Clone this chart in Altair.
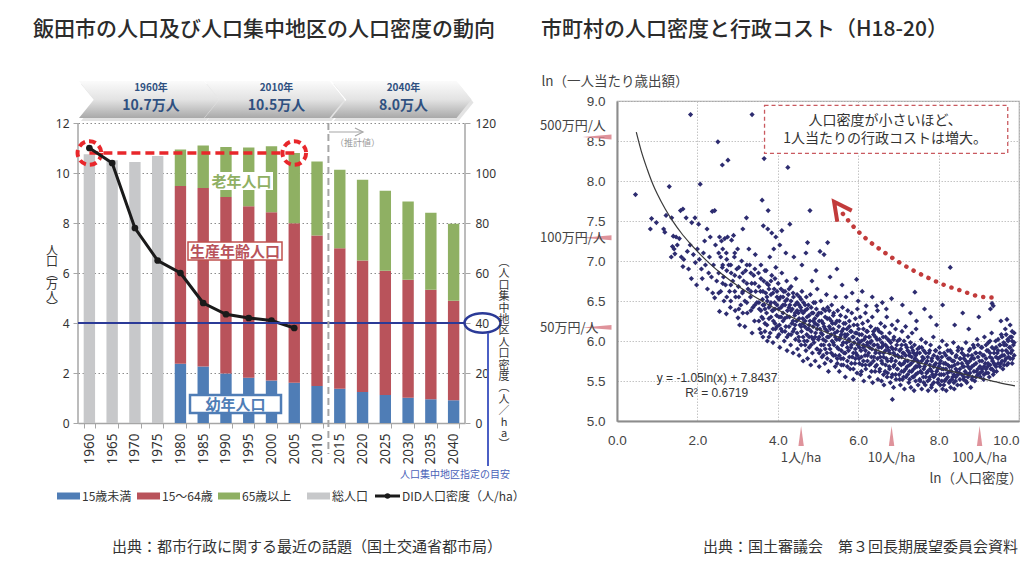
import altair as alt
import pandas as pd

JP = "Noto Sans CJK JP"
LAT = "Noto Sans"
ARIAL = "Liberation Sans"

# ======================= LEFT PANEL DATA =======================
YEARS = ["1960", "1965", "1970", "1975", "1980", "1985", "1990", "1995", "2000",
         "2005", "2010", "2015", "2020", "2025", "2030", "2035", "2040"]
TOTAL_YEARS = ["1960", "1965", "1970", "1975"]
TOTAL_POP = [10.75, 10.51, 10.44, 10.68]
AGE_YEARS = ["1980", "1985", "1990", "1995", "2000", "2005", "2010",
             "2015", "2020", "2025", "2030", "2035", "2040"]
UNDER_15 = [2.37, 2.26, 1.98, 1.81, 1.70, 1.61, 1.48, 1.37, 1.24, 1.12, 1.01, 0.95, 0.91]
AGE_15_64 = [7.11, 7.14, 7.06, 6.86, 6.73, 6.38, 6.02, 5.62, 5.26, 4.97, 4.72, 4.38, 3.98]
AGE_65_PLUS = [1.46, 1.70, 2.00, 2.35, 2.64, 2.81, 2.96, 3.14, 3.23, 3.20, 3.13, 3.08, 3.08]
DID_YEARS = ["1960", "1965", "1970", "1975", "1980", "1985", "1990", "1995", "2000", "2005"]
DID_DENSITY = [110, 104, 78, 65, 60, 48, 43.5, 42, 41, 38]
SERIES = ["15歳未満", "15〜64歳", "65歳以上", "総人口"]
SERIES_COLORS = ["#4f7db6", "#b9535b", "#8fb063", "#c7c8ca"]
LINE_LABEL = "DID人口密度（人/ha）"
BANNER_YEARS = ["1960年", "2010年", "2040年"]
BANNER_POPS = ["10.7万人", "10.5万人", "8.0万人"]
DID_GUIDE = 40
PEAK_POP = 10.8
PEAK_YEARS = ["1960", "2005"]
PROJECTION_AFTER = "2010"

# ======================= RIGHT PANEL DATA =======================
PTS_UPPER = [(0.46, 7.83), (0.86, 7.53), (0.98, 7.48), (0.83, 7.40), (1.16, 7.40), (1.19, 7.36),
             (1.22, 7.57), (1.36, 7.54), (1.30, 7.93), (1.40, 7.31), (1.47, 7.30), (1.38, 7.18),
             (1.42, 7.15), (1.35, 7.05), (1.44, 7.09), (1.55, 7.28), (1.50, 7.20), (1.58, 7.63),
             (1.64, 7.65), (1.72, 7.54), (1.86, 7.48), (1.94, 7.54), (2.03, 7.46), (2.07, 7.96),
             (2.24, 7.40), (2.37, 7.62), (2.43, 7.63), (2.51, 8.49), (2.62, 8.20), (2.76, 8.26),
             (3.13, 7.40), (3.22, 7.54), (3.66, 8.28), (4.25, 8.17), (3.61, 7.76), (3.76, 7.63),
             (4.80, 7.63), (3.64, 7.44), (4.30, 7.46), (3.75, 7.40), (3.85, 7.35), (3.95, 7.30),
             (4.10, 7.38), (4.05, 7.20), (3.90, 7.15), (4.20, 7.10), (4.40, 7.05), (3.80, 7.05),
             (4.74, 7.23), (5.24, 7.23), (4.70, 7.10), (5.05, 7.12), (5.15, 7.08), (5.47, 6.90),
             (4.60, 6.95), (4.95, 6.88), (5.30, 6.80), (4.85, 6.75), (1.83, 8.83), (3.36, 8.83)]
PTS_B = [(1.60, 7.05), (1.66, 7.02), (1.64, 6.93), (1.75, 7.12), (1.82, 7.20), (1.90, 7.08),
         (1.95, 6.98), (2.00, 7.15), (2.05, 7.02), (2.10, 6.90), (2.15, 7.10), (2.20, 6.95),
         (2.28, 6.85), (2.30, 7.05), (2.35, 6.80), (2.40, 6.95), (2.45, 7.20), (2.48, 6.75),
         (1.85, 6.78), (1.98, 6.70), (2.12, 6.78), (2.25, 6.65), (2.43, 6.54), (2.38, 6.60),
         (2.32, 7.30), (2.18, 7.25), (1.78, 6.90)]
PTS_C = [(2.55, 6.37), (2.72, 6.34), (3.01, 6.29), (2.55, 7.30), (2.60, 7.25), (2.68, 7.28),
         (2.75, 7.30), (2.85, 7.26), (2.90, 7.32), (2.58, 7.05), (2.62, 6.92), (2.65, 6.80),
         (2.70, 6.70), (2.72, 7.10), (2.78, 6.95), (2.80, 6.62), (2.84, 6.85), (2.88, 6.75),
         (2.92, 7.05), (2.95, 6.55), (2.98, 6.90), (3.02, 6.68), (3.05, 6.80), (3.08, 6.45),
         (3.10, 7.00), (3.12, 6.60), (3.15, 6.75), (3.18, 6.50), (3.20, 6.88), (3.24, 6.35),
         (3.26, 6.65), (3.30, 6.95), (3.32, 6.55), (3.35, 6.72), (3.38, 6.42), (3.40, 6.82),
         (3.42, 6.25), (3.45, 6.62), (3.48, 6.48), (2.58, 6.62), (2.66, 6.50), (2.82, 6.42),
         (2.94, 6.38), (3.00, 7.15), (3.28, 7.15), (3.05, 6.20), (3.18, 6.18), (3.36, 6.10),
         (3.44, 7.08)]
PTS_D = [(3.52, 6.85), (3.54, 6.40), (3.55, 6.15), (3.57, 6.62), (3.58, 6.95), (3.60, 6.30),
         (3.62, 6.52), (3.63, 6.05), (3.65, 6.75), (3.66, 6.45), (3.68, 6.22), (3.70, 6.60),
         (3.71, 6.88), (3.72, 6.35), (3.74, 6.00), (3.74, 6.50), (3.77, 6.70), (3.78, 6.28),
         (3.80, 6.45), (3.81, 6.10), (3.83, 6.58), (3.85, 6.82), (3.86, 6.38), (3.88, 5.98),
         (3.89, 6.25), (3.91, 6.65), (3.92, 6.48), (3.94, 6.15), (3.95, 6.92), (3.97, 6.32),
         (3.98, 6.55), (3.99, 6.05), (4.01, 6.72), (4.02, 6.40), (4.04, 6.20), (4.05, 5.92),
         (4.07, 6.55), (4.08, 6.30), (4.10, 6.85), (4.11, 6.12), (4.13, 6.45), (4.14, 6.62),
         (4.16, 6.00), (4.17, 6.28), (4.19, 6.50), (4.20, 6.18), (4.22, 6.75), (4.23, 5.88),
         (4.24, 6.38), (4.26, 6.58), (4.27, 6.08), (4.29, 6.30), (4.30, 6.45), (4.32, 5.95),
         (4.33, 6.68), (4.35, 6.22), (4.36, 6.40), (4.38, 5.85), (4.39, 6.55), (4.41, 6.15),
         (4.42, 6.32), (4.44, 6.02), (4.45, 6.78), (4.47, 6.25), (4.48, 6.48), (4.49, 5.90)]
PTS_E = [(4.51, 6.35), (4.52, 6.05), (4.53, 5.82), (4.54, 6.55), (4.55, 6.20), (4.57, 6.42),
         (4.58, 5.95), (4.59, 6.12), (4.60, 6.62), (4.62, 6.28), (4.63, 5.75), (4.64, 6.48),
         (4.66, 6.00), (4.67, 6.18), (4.68, 6.38), (4.70, 5.88), (4.71, 6.55), (4.72, 6.08),
         (4.73, 6.30), (4.74, 5.78), (4.76, 6.45), (4.77, 6.15), (4.78, 5.92), (4.80, 6.25),
         (4.81, 6.58), (4.82, 5.70), (4.84, 6.05), (4.85, 6.35), (4.86, 5.85), (4.88, 6.18),
         (4.89, 6.48), (4.90, 5.98), (4.92, 6.28), (4.93, 5.75), (4.94, 6.10), (4.96, 6.40),
         (4.97, 5.90), (4.98, 6.65), (4.99, 6.20), (5.01, 6.02), (5.02, 6.35), (5.03, 5.68),
         (5.05, 6.15), (5.06, 5.88), (5.07, 6.50), (5.09, 6.25), (5.10, 5.80), (5.11, 6.08),
         (5.13, 6.40), (5.14, 5.95), (5.15, 6.18), (5.17, 5.72), (5.18, 6.30), (5.19, 6.00),
         (5.21, 6.58), (5.22, 5.85), (5.23, 6.12), (5.24, 6.42), (5.26, 5.62), (5.27, 6.05),
         (5.28, 6.28), (5.30, 5.90), (5.31, 6.15), (5.32, 5.75), (5.34, 6.45), (5.35, 6.00),
         (5.36, 6.22), (5.38, 5.82), (5.39, 6.35), (5.40, 5.95), (5.42, 6.10), (5.43, 5.68),
         (5.44, 6.55), (5.46, 6.02), (5.47, 6.25), (5.48, 5.78), (5.49, 6.38)]
PTS_F = [(5.96, 6.77), (6.20, 6.44), (6.46, 6.44), (5.60, 6.70), (5.85, 6.60), (6.10, 6.62),
         (6.35, 6.55), (5.70, 6.55), (6.00, 6.50), (5.51, 5.90), (5.52, 6.18), (5.53, 5.62),
         (5.55, 6.05), (5.56, 6.32), (5.57, 5.78), (5.59, 6.12), (5.60, 5.95), (5.61, 6.42),
         (5.63, 5.70), (5.64, 6.22), (5.65, 5.85), (5.67, 6.08), (5.68, 5.55), (5.69, 6.30),
         (5.71, 5.98), (5.72, 6.15), (5.73, 5.75), (5.74, 6.38), (5.76, 5.88), (5.77, 6.02),
         (5.78, 6.25), (5.80, 5.65), (5.81, 6.12), (5.82, 5.92), (5.84, 6.35), (5.85, 5.80),
         (5.86, 6.05), (5.88, 5.52), (5.89, 6.20), (5.90, 5.98), (5.92, 5.72), (5.93, 6.28),
         (5.94, 5.85), (5.96, 6.10), (5.97, 5.60), (5.98, 6.40), (5.99, 5.95), (6.01, 6.15),
         (6.02, 5.78), (6.03, 5.98), (6.05, 6.30), (6.06, 5.58), (6.07, 5.88), (6.09, 6.08),
         (6.10, 5.70), (6.11, 6.22), (6.13, 5.92), (6.14, 5.50), (6.15, 6.02), (6.17, 5.82),
         (6.18, 6.35), (6.19, 5.65), (6.21, 6.12), (6.22, 5.95), (6.23, 5.75), (6.24, 6.25),
         (6.26, 5.85), (6.27, 6.05), (6.28, 5.55), (6.30, 5.98), (6.31, 6.18), (6.32, 5.72),
         (6.34, 5.90), (6.35, 6.30), (6.36, 5.48), (6.38, 6.08), (6.39, 5.80), (6.40, 5.95),
         (6.42, 5.62), (6.43, 6.15), (6.44, 5.88), (6.46, 5.70), (6.47, 6.02), (6.48, 6.38),
         (6.49, 5.52)]
PTS_G = [(6.83, 6.53), (7.41, 6.61), (6.70, 6.40), (7.10, 6.45), (7.30, 6.35), (6.60, 6.48),
         (7.45, 6.25), (6.85, 5.27), (6.51, 5.92), (6.52, 6.12), (6.54, 5.65), (6.55, 5.80),
         (6.56, 6.22), (6.58, 5.50), (6.59, 5.98), (6.60, 5.72), (6.62, 6.05), (6.63, 5.85),
         (6.64, 5.45), (6.66, 6.18), (6.67, 5.62), (6.68, 5.95), (6.70, 5.78), (6.71, 6.30),
         (6.72, 5.55), (6.74, 6.02), (6.76, 5.88), (6.77, 5.68), (6.78, 6.10), (6.80, 5.48),
         (6.81, 5.98), (6.82, 5.75), (6.84, 6.20), (6.85, 5.58), (6.86, 5.90), (6.88, 5.42),
         (6.89, 6.05), (6.90, 5.70), (6.92, 5.82), (6.93, 6.15), (6.94, 5.52), (6.96, 5.95),
         (6.97, 5.65), (6.98, 6.25), (7.01, 5.80), (7.02, 5.58), (7.03, 6.02), (7.05, 5.45),
         (7.06, 5.90), (7.07, 5.70), (7.09, 6.12), (7.10, 5.52), (7.11, 5.85), (7.13, 5.62),
         (7.14, 6.00), (7.15, 5.40), (7.17, 5.75), (7.18, 6.18), (7.19, 5.55), (7.21, 5.92),
         (7.22, 5.68), (7.24, 6.05), (7.26, 5.48), (7.27, 5.82), (7.28, 5.62), (7.30, 5.98),
         (7.31, 5.42), (7.32, 5.72), (7.34, 6.10), (7.35, 5.55), (7.36, 5.88), (7.38, 5.65),
         (7.39, 5.38), (7.40, 5.95), (7.42, 5.78), (7.43, 5.50), (7.44, 6.15), (7.46, 5.68),
         (7.47, 5.85), (7.49, 5.45)]
PTS_H = [(8.29, 6.92), (7.80, 6.30), (8.10, 6.45), (7.65, 6.40), (8.40, 6.20), (7.95, 6.20),
         (7.51, 5.72), (7.52, 5.92), (7.54, 5.50), (7.55, 5.62), (7.57, 6.02), (7.58, 5.40),
         (7.60, 5.80), (7.62, 5.55), (7.63, 5.88), (7.65, 5.68), (7.67, 5.45), (7.68, 5.98),
         (7.70, 5.60), (7.72, 5.75), (7.74, 5.38), (7.76, 5.85), (7.77, 5.52), (7.79, 5.65),
         (7.80, 5.95), (7.82, 5.42), (7.83, 5.78), (7.85, 5.58), (7.87, 6.05), (7.88, 5.48),
         (7.90, 5.70), (7.92, 5.88), (7.93, 5.38), (7.95, 5.62), (7.97, 5.80), (7.99, 5.52),
         (8.01, 5.68), (8.02, 5.92), (8.04, 5.45), (8.05, 5.75), (8.07, 5.58), (8.09, 6.00),
         (8.10, 5.40), (8.12, 5.65), (8.14, 5.85), (8.15, 5.50), (8.17, 5.72), (8.19, 5.38),
         (8.20, 5.95), (8.22, 5.60), (8.24, 5.78), (8.26, 5.48), (8.27, 5.68), (8.29, 5.88),
         (8.30, 5.42), (8.32, 5.62), (8.34, 5.75), (8.35, 5.55), (8.37, 5.98), (8.39, 5.40),
         (8.40, 5.70), (8.42, 5.50), (8.44, 5.82), (8.45, 5.62), (8.47, 5.45), (8.49, 5.92)]
PTS_I = [(9.29, 6.40), (9.36, 6.44), (9.33, 6.47), (9.70, 6.27), (9.83, 6.12), (9.00, 6.30),
         (8.75, 6.15), (9.55, 6.25), (8.60, 6.35), (8.52, 5.60), (8.54, 5.78), (8.56, 5.45),
         (8.58, 5.90), (8.60, 5.68), (8.62, 5.52), (8.64, 5.82), (8.66, 5.62), (8.68, 5.98),
         (8.70, 5.48), (8.72, 5.72), (8.74, 5.58), (8.76, 5.88), (8.78, 5.65), (8.80, 5.42),
         (8.82, 5.78), (8.84, 5.55), (8.86, 5.95), (8.88, 5.70), (8.90, 5.50), (8.92, 5.85),
         (8.94, 5.62), (8.96, 6.02), (8.98, 5.58), (9.02, 5.75), (9.04, 5.55), (9.06, 5.92),
         (9.08, 5.65), (9.10, 5.82), (9.12, 5.52), (9.14, 6.05), (9.16, 5.72), (9.18, 5.60),
         (9.20, 5.88), (9.22, 5.68), (9.24, 5.98), (9.26, 5.55), (9.28, 5.80), (9.30, 5.65),
         (9.32, 6.10), (9.34, 5.75), (9.36, 5.58), (9.38, 5.90), (9.40, 5.70), (9.42, 6.00),
         (9.44, 5.62), (9.46, 5.85), (9.48, 5.78), (9.52, 5.95), (9.54, 5.72), (9.56, 6.08),
         (9.58, 5.82), (9.60, 5.65), (9.62, 5.98), (9.64, 5.75), (9.66, 6.15), (9.68, 5.88),
         (9.70, 5.70), (9.72, 6.02), (9.74, 5.80), (9.76, 5.92), (9.78, 6.20), (9.80, 5.85),
         (9.82, 6.05), (9.84, 5.78), (9.86, 5.95), (9.88, 6.10)]
# the densest part of the cloud, read column by column: (ln density, [ln cost values])
CORE_COLUMNS = [
    (2.53, [6.85, 7.10, 6.60]), (2.63, [6.95, 6.72, 7.15]), (2.73, [6.88, 6.55, 7.02]),
    (2.83, [6.70, 6.95, 6.50]), (2.93, [6.82, 6.62, 7.10]), (3.03, [6.55, 6.92, 6.40]),
    (3.13, [6.85, 6.62, 6.35]), (3.23, [6.72, 6.48, 6.95]), (3.33, [6.62, 6.85, 6.38]),
    (3.43, [6.72, 6.45, 6.90]),
    (3.53, [6.68, 6.25, 6.48]), (3.58, [6.38, 6.78, 6.10]), (3.63, [6.62, 6.28, 6.45]),
    (3.68, [6.88, 6.40, 6.12]), (3.73, [6.55, 6.20, 6.72]), (3.78, [6.42, 6.65, 6.05]),
    (3.83, [6.30, 6.48, 6.75]), (3.88, [6.60, 6.15, 6.38]), (3.93, [6.40, 6.78, 6.22]),
    (3.98, [6.18, 6.45, 6.62]), (4.03, [6.52, 6.30, 6.08]), (4.08, [6.42, 6.65, 6.15]),
    (4.13, [6.25, 6.55, 6.35]), (4.18, [6.45, 6.12, 6.62]), (4.23, [6.30, 6.52, 6.05]),
    (4.28, [6.18, 6.42, 6.65]), (4.33, [6.38, 6.08, 6.50]), (4.38, [6.25, 6.60, 6.12]),
    (4.43, [6.45, 6.20, 6.35]), (4.48, [6.10, 6.38, 6.58]), (4.53, [6.28, 6.45, 6.00]),
    (4.58, [6.18, 6.38, 6.52]), (4.63, [6.05, 6.35, 6.22]), (4.68, [6.25, 5.95, 6.45]),
    (4.73, [6.15, 6.40, 6.00]), (4.78, [6.32, 6.05, 6.20]), (4.83, [6.12, 6.42, 5.95]),
    (4.88, [6.25, 6.02, 6.35]), (4.93, [6.05, 6.22, 6.48]), (4.98, [6.15, 5.90, 6.32]),
    (5.03, [6.25, 6.05, 5.85]), (5.08, [6.10, 6.35, 5.95]), (5.13, [6.02, 6.22, 5.82]),
    (5.18, [6.15, 5.90, 6.38]), (5.23, [6.05, 6.28, 5.78]), (5.28, [5.95, 6.18, 6.38]),
    (5.33, [6.08, 5.85, 6.25]), (5.38, [5.98, 6.15, 6.32]), (5.43, [6.05, 5.82, 6.22]),
    (5.48, [5.92, 6.12, 5.72]), (5.53, [6.02, 5.82, 6.25]), (5.58, [5.88, 6.08, 5.70]),
    (5.63, [5.98, 6.15, 5.78]), (5.68, [6.05, 5.85, 6.22]), (5.73, [5.92, 6.08, 5.68]),
    (5.78, [5.80, 6.00, 6.18]), (5.83, [5.95, 5.72, 6.12]), (5.88, [6.05, 5.85, 5.65]),
    (5.93, [5.90, 6.10, 5.78]), (5.98, [5.82, 6.02, 6.20]), (6.03, [5.92, 5.72, 6.08]),
    (6.08, [5.80, 6.00, 5.62]), (6.13, [5.95, 5.75, 6.15]), (6.18, [5.88, 6.05, 5.70]),
    (6.23, [5.82, 5.98, 6.12]), (6.28, [5.92, 5.70, 6.05]), (6.33, [5.80, 6.00, 5.62]),
    (6.38, [5.95, 5.75, 6.12]), (6.43, [5.85, 6.05, 5.68]), (6.48, [5.78, 5.95, 6.15]),
    (6.53, [5.85, 5.62, 6.02]), (6.58, [5.92, 5.75, 6.10]), (6.63, [5.80, 5.95, 5.58]),
    (6.68, [5.88, 5.70, 6.05]), (6.73, [5.75, 5.92, 5.60]), (6.78, [5.85, 6.00, 5.65]),
    (6.83, [5.78, 5.92, 5.55]), (6.88, [5.85, 5.68, 6.02]), (6.93, [5.75, 5.90, 5.58]),
    (6.98, [5.82, 5.65, 6.00]), (7.03, [5.72, 5.88, 5.52]), (7.08, [5.80, 5.62, 5.95]),
    (7.13, [5.72, 5.85, 5.55]), (7.18, [5.65, 5.82, 5.95]), (7.23, [5.75, 5.58, 5.88]),
    (7.28, [5.70, 5.85, 5.52]), (7.33, [5.62, 5.80, 5.92]), (7.38, [5.75, 5.55, 5.85]),
    (7.43, [5.68, 5.82, 5.58]), (7.48, [5.60, 5.75, 5.90]), (7.53, [5.68, 5.52, 5.85]),
    (7.58, [5.75, 5.60, 5.92]), (7.63, [5.65, 5.78, 5.48]), (7.68, [5.72, 5.55, 5.85]),
    (7.73, [5.62, 5.80, 5.50]), (7.78, [5.70, 5.55, 5.88]), (7.83, [5.62, 5.75, 5.45]),
    (7.88, [5.68, 5.82, 5.55]), (7.93, [5.58, 5.72, 5.88]), (7.98, [5.65, 5.48, 5.78]),
    (8.03, [5.58, 5.72, 5.85]), (8.08, [5.65, 5.50, 5.80]), (8.13, [5.58, 5.72, 5.45]),
    (8.18, [5.65, 5.82, 5.52]), (8.23, [5.55, 5.70, 5.88]), (8.28, [5.62, 5.50, 5.78]),
    (8.33, [5.68, 5.52, 5.85]), (8.38, [5.58, 5.75, 5.48]), (8.43, [5.65, 5.55, 5.80]),
    (8.48, [5.58, 5.72, 5.88]), (8.53, [5.65, 5.52, 5.78]), (8.58, [5.58, 5.72, 5.85]),
    (8.63, [5.68, 5.55, 5.78]), (8.68, [5.60, 5.75, 5.50]), (8.73, [5.68, 5.82, 5.55]),
    (8.78, [5.60, 5.75, 5.90]), (8.83, [5.68, 5.52, 5.82]), (8.88, [5.62, 5.78, 5.92]),
    (8.93, [5.72, 5.55, 5.85]), (8.98, [5.65, 5.80, 5.95]), (9.03, [5.68, 5.85, 5.60]),
    (9.08, [5.75, 5.62, 5.92]), (9.13, [5.68, 5.82, 5.58]), (9.18, [5.78, 5.65, 5.95]),
    (9.23, [5.72, 5.88, 5.60]), (9.28, [5.70, 5.85, 6.00]), (9.33, [5.78, 5.65, 5.92]),
    (9.38, [5.72, 5.85, 5.62]), (9.43, [5.80, 5.92, 5.68]), (9.48, [5.72, 5.88, 6.02]),
    (9.53, [5.80, 5.68, 5.95]), (9.58, [5.88, 5.75, 6.05]), (9.63, [5.82, 5.95, 5.70]),
    (9.68, [5.78, 5.95, 6.08]), (9.73, [5.85, 5.72, 6.00]), (9.78, [5.92, 5.78, 6.05]),
    (9.83, [5.88, 5.72, 6.00]), (9.88, [5.82, 5.98]),
]

CURVE_X = [0.48, 0.6, 0.75, 0.9, 1.0, 1.2, 1.4, 1.6, 1.8, 2.0, 2.3, 2.6, 3.0, 3.5, 4.0,
           4.5, 5.0, 5.5, 6.0, 6.5, 7.0, 7.5, 8.0, 8.5, 9.0, 9.5, 9.9]
CURVE_Y = [8.61, 8.38, 8.15, 7.95, 7.84, 7.65, 7.49, 7.35, 7.23, 7.12, 6.97, 6.84, 6.69, 6.53, 6.39,
           6.26, 6.15, 6.05, 5.96, 5.88, 5.80, 5.73, 5.66, 5.60, 5.54, 5.48, 5.44]
EQUATION = "y = -1.05ln(x) + 7.8437"
R_SQUARED = "R² = 0.6719"
NOTE_LINES = ["人口密度が小さいほど、", "1人当たりの行政コストは増大。"]
COST_LABELS = ["500万円/人", "100万円/人", "50万円/人"]
COST_LABEL_Y = [8.69, 7.29, 6.16]
COST_MARK_Y = [8.55, 7.29, 6.17]
DENSITY_LABELS = ["1人/ha", "10人/ha", "100人/ha"]
DENSITY_X = [4.58, 6.83, 9.02]
TREND_ARROW_X = [5.62, 5.92, 6.24, 6.59, 6.97, 7.34, 7.74, 8.14, 8.56, 8.99, 9.44]
TREND_ARROW_Y = [7.59, 7.41, 7.26, 7.13, 7.00, 6.89, 6.79, 6.70, 6.63, 6.56, 6.54]
ARROW_HEAD_X = [5.84, 5.40, 5.48]
ARROW_HEAD_Y = [7.63, 7.74, 7.49]

# ======================= LAYOUT =======================
LW, LH = 387, 322
RW, RH = 402, 320
ONE = pd.DataFrame({"k": [0]})
RED = "#e8272b"
NAVY = "#2d2c70"


def label(text, x, y, size=13, color="#333333", align="center", weight="normal",
          font=JP, baseline="middle", **kw):
    return alt.Chart(ONE).mark_text(text=text, fontSize=size, color=color, align=align,
                                    fontWeight=weight, font=font, baseline=baseline,
                                    **kw).encode(x=x, y=y)


# ---------------- left panel ----------------
XB = alt.Scale(domain=YEARS, paddingInner=0.5, paddingOuter=0.25)
LY = alt.Scale(domain=[0, 12.88], nice=False, zero=True)
LY2 = alt.Scale(domain=[0, 128.8], nice=False, zero=True)
X_AXIS_L = alt.Axis(title=None, labelAngle=270, labelFontSize=13.5, labelColor="#333333",
                    labelPadding=5, domainColor="#a6a6a6", domainWidth=1.5,
                    tickColor="#a6a6a6", tickSize=5, tickBand="extent", grid=False)
Y_AXIS_L = alt.Axis(title=None, values=[0, 2, 4, 6, 8, 10, 12], grid=True, gridColor="#8c8c8c",
                    gridDash=[1.5, 2.5], gridWidth=1, domain=False, tickColor="#a6a6a6",
                    tickSize=5, labelFontSize=12, labelColor="#333333", labelPadding=4)
Y_AXIS_R = alt.Axis(title=None, orient="right", values=[0, 20, 40, 60, 80, 100, 120], grid=False,
                    domain=False, tickColor="#a6a6a6", tickSize=5, labelFontSize=12,
                    labelColor="#333333", labelPadding=5)

rows = []
for yr, v in zip(TOTAL_YEARS, TOTAL_POP):
    rows.append({"year": yr, "series": SERIES[3], "value": v, "ord": 0})
for yr, a, b, c in zip(AGE_YEARS, UNDER_15, AGE_15_64, AGE_65_PLUS):
    rows.append({"year": yr, "series": SERIES[0], "value": a, "ord": 0})
    rows.append({"year": yr, "series": SERIES[1], "value": b, "ord": 1})
    rows.append({"year": yr, "series": SERIES[2], "value": c, "ord": 2})
bar_df = pd.DataFrame(rows)
did_df = pd.DataFrame({"year": DID_YEARS, "density": DID_DENSITY})
peak_df = pd.DataFrame({"year": PEAK_YEARS, "v": [PEAK_POP, PEAK_POP]})

bars = alt.Chart(bar_df).mark_bar().encode(
    x=alt.X("year:N", scale=XB, axis=X_AXIS_L),
    y=alt.Y("value:Q", stack="zero", scale=LY, axis=Y_AXIS_L),
    color=alt.Color("series:N", scale=alt.Scale(domain=SERIES, range=SERIES_COLORS), legend=None),
    order=alt.Order("ord:Q"),
)
axis_lines = [
    alt.Chart(ONE).mark_rule(color="#a6a6a6", strokeWidth=1.5).encode(
        x=alt.value(px), y=alt.YDatum(12, scale=LY, axis=Y_AXIS_L), y2=alt.Y2Datum(0))
    for px in (0, LW)
]
peak_line = alt.Chart(peak_df).mark_line(color=RED, strokeWidth=3.5, strokeDash=[9, 5]).encode(
    x=alt.X("year:N", scale=XB, axis=X_AXIS_L),
    y=alt.Y("v:Q", scale=LY, axis=Y_AXIS_L))
peak_circles = alt.Chart(peak_df).mark_point(
    shape="circle", size=560, filled=False, stroke=RED, strokeWidth=4, strokeDash=[7, 4],
    opacity=1).encode(
    x=alt.X("year:N", scale=XB, axis=X_AXIS_L),
    y=alt.Y("v:Q", scale=LY, axis=Y_AXIS_L))
left_scale_group = alt.layer(bars, *axis_lines, peak_line, peak_circles)

did_line = alt.Chart(did_df).mark_line(color="#1a1a1a", strokeWidth=3).encode(
    x=alt.X("year:N", scale=XB, axis=X_AXIS_L),
    y=alt.Y("density:Q", scale=LY2, axis=Y_AXIS_R))
did_pts = alt.Chart(did_df).mark_point(filled=True, size=45, color="#1a1a1a", opacity=1).encode(
    x=alt.X("year:N", scale=XB, axis=X_AXIS_L),
    y=alt.Y("density:Q", scale=LY2, axis=Y_AXIS_R))
guide_rule = alt.Chart(ONE).mark_rule(color="#2b3a97", strokeWidth=2).encode(
    x=alt.value(0), x2=alt.value(LW),
    y=alt.YDatum(DID_GUIDE, scale=LY2, axis=Y_AXIS_R))
ELLIPSE = "M -1 0 A 1 0.54 0 1 1 1 0 A 1 0.54 0 1 1 -1 0 Z"
guide_oval = alt.Chart(ONE).mark_point(shape=ELLIPSE, size=1296, filled=False, stroke="#2b3a97",
                                       strokeWidth=2.5, opacity=1).encode(
    x=alt.value(404.5), y=alt.YDatum(DID_GUIDE, scale=LY2, axis=Y_AXIS_R))
right_scale_group = alt.layer(did_line, did_pts, guide_rule, guide_oval)

decor_left = []
# projection divider
decor_left.append(alt.Chart(ONE).mark_rule(color="#a6a6a6", strokeWidth=2, strokeDash=[7, 4],
                                           xOffset=11.38).encode(
    x=alt.XDatum(PROJECTION_AFTER, type="nominal", scale=XB, axis=X_AXIS_L),
    y=alt.value(22), y2=alt.value(353)))
decor_left.append(alt.Chart(ONE).mark_rule(color="#a6a6a6", strokeWidth=1.2).encode(
    x=alt.value(251), x2=alt.value(284), y=alt.value(31)))
decor_left.append(alt.Chart(ONE).mark_point(shape="M -1 -1 L 1 0 L -1 1", size=64, filled=False,
                                            stroke="#a6a6a6", strokeWidth=1.2, opacity=1).encode(
    x=alt.value(281), y=alt.value(31)))
decor_left.append(label("（推計値）", alt.value(279.5), alt.value(42), size=9, color="#9a9a9a"))
# guide annotation
decor_left.append(alt.Chart(ONE).mark_rule(color="#4b5fc4", strokeWidth=2).encode(
    x=alt.value(410), y=alt.value(232), y2=alt.value(365)))
decor_left.append(label("人口集中地区指定の目安", alt.value(432), alt.value(374), size=10,
                        color="#4a62b8", align="right"))
# segment label boxes
for (x0, y0, x1, y1, txt, col, border, bw) in [
        (132, 71, 195, 89, "老年人口", "#8fb063", None, 0),
        (110, 141, 204, 159, "生産年齢人口", "#b9535b", "#c0504d", 1.5),
        (112, 294, 203, 312, "幼年人口", "#4f7db6", "#4f7db6", 2.5)]:
    rect_kw = dict(fill="white")
    if border:
        rect_kw.update(stroke=border, strokeWidth=bw)
    decor_left.append(alt.Chart(ONE).mark_rect(**rect_kw).encode(
        x=alt.value(x0), x2=alt.value(x1), y=alt.value(y0), y2=alt.value(y1)))
    decor_left.append(label(txt, alt.value((x0 + x1) / 2), alt.value((y0 + y1) / 2 + 0.5),
                            size=15, color=col, weight="bold"))
# banner chevrons
CHEVRON = "M -1 -0.264 L 0.786 -0.264 L 1 0 L 0.786 0.264 L -1 0.264 L -0.786 0 Z"
grad = alt.LinearGradient(gradient="linear", x1=0, y1=0, x2=0, y2=1,
                          stops=[alt.GradientStop(color="#fbfbfb", offset=0),
                                 alt.GradientStop(color="#e3e3e3", offset=0.5),
                                 alt.GradientStop(color="#a9a9a9", offset=1)])
for cx, yr, pop in zip([71, 196.5, 323.5], BANNER_YEARS, BANNER_POPS):
    decor_left.append(alt.Chart(ONE).mark_point(shape=CHEVRON, size=19600, filled=True,
                                                fill="#d0d0d0", strokeWidth=0, opacity=0.6).encode(
        x=alt.value(cx + 2), y=alt.value(1.5)))
    decor_left.append(alt.Chart(ONE).mark_point(shape=CHEVRON, size=19600, filled=True,
                                                fill=grad, strokeWidth=0, opacity=1).encode(
        x=alt.value(cx), y=alt.value(-1.5)))
    decor_left.append(label(yr, alt.value(cx + 2), alt.value(-13), size=10, color="#2f5080",
                            weight="bold"))
    decor_left.append(label(pop, alt.value(cx + 2), alt.value(5), size=14, color="#2f5080",
                            weight="bold"))
# axis titles (vertical writing)
decor_left.append(label("人\n口\n︵\n万\n人\n︶", alt.value(-26), alt.value(149.5), size=12,
                        color="#333333", lineBreak="\n", lineHeight=11.5))
decor_left.append(label("︵\n人\n口\n集\n中\n地\n区\n人\n口\n密\n度\n︵\n人\n／\nh\na\n︶",
                        alt.value(426), alt.value(162), size=11, color="#333333",
                        lineBreak="\n", lineHeight=11.4))
# legend
for (x0, x1), name, col in zip([(-21, 2), (59, 82), (140, 162), (229, 252)], SERIES, SERIES_COLORS):
    decor_left.append(alt.Chart(ONE).mark_rect(fill=col).encode(
        x=alt.value(x0), x2=alt.value(x1), y=alt.value(391.5), y2=alt.value(398.5)))
    decor_left.append(label(name, alt.value(x1 + 2), alt.value(395.5), size=12, align="left"))
decor_left.append(alt.Chart(ONE).mark_rule(color="#1a1a1a", strokeWidth=3).encode(
    x=alt.value(297), x2=alt.value(322), y=alt.value(395)))
decor_left.append(alt.Chart(ONE).mark_point(filled=True, size=30, color="#1a1a1a", opacity=1).encode(
    x=alt.value(309.5), y=alt.value(395)))
decor_left.append(label(LINE_LABEL, alt.value(324), alt.value(395.5), size=12, align="left"))
# title & source
decor_left.append(label("飯田市の人口及び人口集中地区の人口密度の動向", alt.value(-45), alt.value(-71),
                        size=21, color="#2b2b2b", align="left", weight=500))
decor_left.append(label("出典：都市行政に関する最近の話題（国土交通省都市局）", alt.value(34),
                        alt.value(446), size=15, color="#333333", align="left"))

left_chart = alt.layer(left_scale_group, right_scale_group, *decor_left).resolve_scale(
    y="independent").properties(width=LW, height=LH)

# ---------------- right panel ----------------
RX = alt.Scale(domain=[0, 10], nice=False, zero=False)
RY = alt.Scale(domain=[5, 9], nice=False, zero=False)
X_AXIS_R = alt.Axis(title="ln（人口密度）", values=[0, 2, 4, 6, 8, 10], format=".1f", grid=True,
                    gridColor="#c4c4c4", gridDash=[1.5, 1.5], ticks=False, labelPadding=12,
                    labelFontSize=13.5, labelColor="#444444", labelFont=ARIAL,
                    labelAlign={"condition": {"test": "datum.value == 10", "value": "right"},
                                "value": "center"},
                    domainColor="#8c8c8c", domainWidth=2, titleX=405, titleY=57,
                    titleAlign="right", titleBaseline="middle", titleFontSize=13.5,
                    titleFontWeight="normal", titleColor="#444444", titleFont=JP)
Y_AXIS_RR = alt.Axis(title="ln（一人当たり歳出額）", values=[5, 5.5, 6, 6.5, 7, 7.5, 8, 8.5, 9],
                     format=".1f", grid=True, gridColor="#c4c4c4", gridDash=[1.5, 1.5], ticks=False,
                     labelPadding=12, labelFontSize=13.5, labelColor="#444444", labelFont=ARIAL,
                     domainColor="#8c8c8c", domainWidth=2, titleAngle=0, titleAlign="left",
                     titleX=-76, titleY=-20, titleBaseline="middle", titleFontSize=13.5,
                     titleFontWeight="normal", titleColor="#444444", titleFont=JP)


def rxf(f):
    return alt.X(f, type="quantitative", scale=RX, axis=X_AXIS_R)


def ryf(f):
    return alt.Y(f, type="quantitative", scale=RY, axis=Y_AXIS_RR)


def rxd(v):
    return alt.XDatum(v, type="quantitative", scale=RX, axis=X_AXIS_R)


def ryd(v):
    return alt.YDatum(v, type="quantitative", scale=RY, axis=Y_AXIS_RR)


pts = PTS_UPPER + PTS_B + PTS_C + PTS_D + PTS_E + PTS_F + PTS_G + PTS_H + PTS_I
for cx, ys in CORE_COLUMNS:
    pts += [(cx, yv) for yv in ys]
scatter_df = pd.DataFrame(pts, columns=["ln_density", "ln_cost"])
scatter = alt.Chart(scatter_df).mark_point(shape="diamond", filled=True, size=27, color=NAVY,
                                           opacity=1).encode(x=rxf("ln_density"), y=ryf("ln_cost"))
curve = alt.Chart(pd.DataFrame({"x": CURVE_X, "y": CURVE_Y})).mark_line(
    color="#3a3a3a", strokeWidth=1.2, interpolate="monotone").encode(x=rxf("x"), y=ryf("y"))
right_layers = [scatter, curve]
right_layers.append(label(EQUATION, rxd(2.49), ryd(5.54), size=12, color="#333333", font=ARIAL))
right_layers.append(label(R_SQUARED, rxd(2.48), ryd(5.35), size=12, color="#333333", font=ARIAL))
right_layers.append(alt.Chart(ONE).mark_rect(fill="white", stroke="#c9595f", strokeDash=[4, 3],
                                             strokeWidth=1.3).encode(
    x=rxd(3.67), x2=alt.X2Datum(9.72), y=ryd(8.946), y2=alt.Y2Datum(8.346)))
for line_txt, yv in zip(NOTE_LINES, [8.75, 8.52]):
    right_layers.append(label(line_txt, rxd(6.67), ryd(yv), size=14, color="#333333"))
right_layers.append(alt.Chart(pd.DataFrame({"x": TREND_ARROW_X, "y": TREND_ARROW_Y})).mark_line(
    color="#c23b3b", strokeWidth=4.5, strokeDash=[0.1, 8.2], strokeCap="round",
    interpolate="monotone").encode(x=rxf("x"), y=ryf("y")))
right_layers.append(alt.Chart(pd.DataFrame({"x": ARROW_HEAD_X, "y": ARROW_HEAD_Y, "o": [0, 1, 2]}))
                    .mark_line(color="#c23b3b", strokeWidth=4, strokeJoin="miter").encode(
    x=rxf("x"), y=ryf("y"), order=alt.Order("o:Q")))
WEDGE_LEFT = "M -1 0 L 1 -0.17 L 1 0.17 Z"
WEDGE_UP = "M 0 -1 L 0.27 1 L -0.27 1 Z"
for txt, ly, my in zip(COST_LABELS, COST_LABEL_Y, COST_MARK_Y):
    right_layers.append(alt.Chart(ONE).mark_point(shape=WEDGE_LEFT, size=841, filled=True,
                                                  color="#d9808a", opacity=0.85).encode(
        x=alt.value(-20), y=ryd(my)))
    right_layers.append(label(txt, alt.value(-77), ryd(ly), size=13, color="#444444", align="left"))
for txt, xv in zip(DENSITY_LABELS, DENSITY_X):
    right_layers.append(alt.Chart(ONE).mark_point(shape=WEDGE_UP, size=400, filled=True,
                                                  color="#d9808a", opacity=0.85).encode(
        x=rxd(xv), y=alt.value(335)))
    right_layers.append(label(txt, rxd(xv), alt.value(357), size=13, color="#444444"))
right_layers.append(label("市町村の人口密度と行政コスト（H18-20）", alt.value(-76), alt.value(-71),
                          size=21, color="#2b2b2b", align="left", weight=500))
right_layers.append(label("出典：国土審議会　第３回長期展望委員会資料", alt.value(86), alt.value(446),
                          size=15, color="#333333", align="left"))

right_chart = alt.layer(*right_layers).properties(
    width=RW, height=RH, view=alt.ViewBackground(stroke="#a9a9a9", strokeWidth=1.2))

chart = alt.hconcat(left_chart, right_chart, spacing=152, bounds="flush").properties(
    padding={"left": 25, "top": 10, "right": 0, "bottom": 0}
).configure(font=JP, background="white").configure_view(stroke=None).configure_axis(
    labelFont=LAT, titleFont=JP)

chart.save("out.html", embed_options={"renderer": "svg", "actions": False})
